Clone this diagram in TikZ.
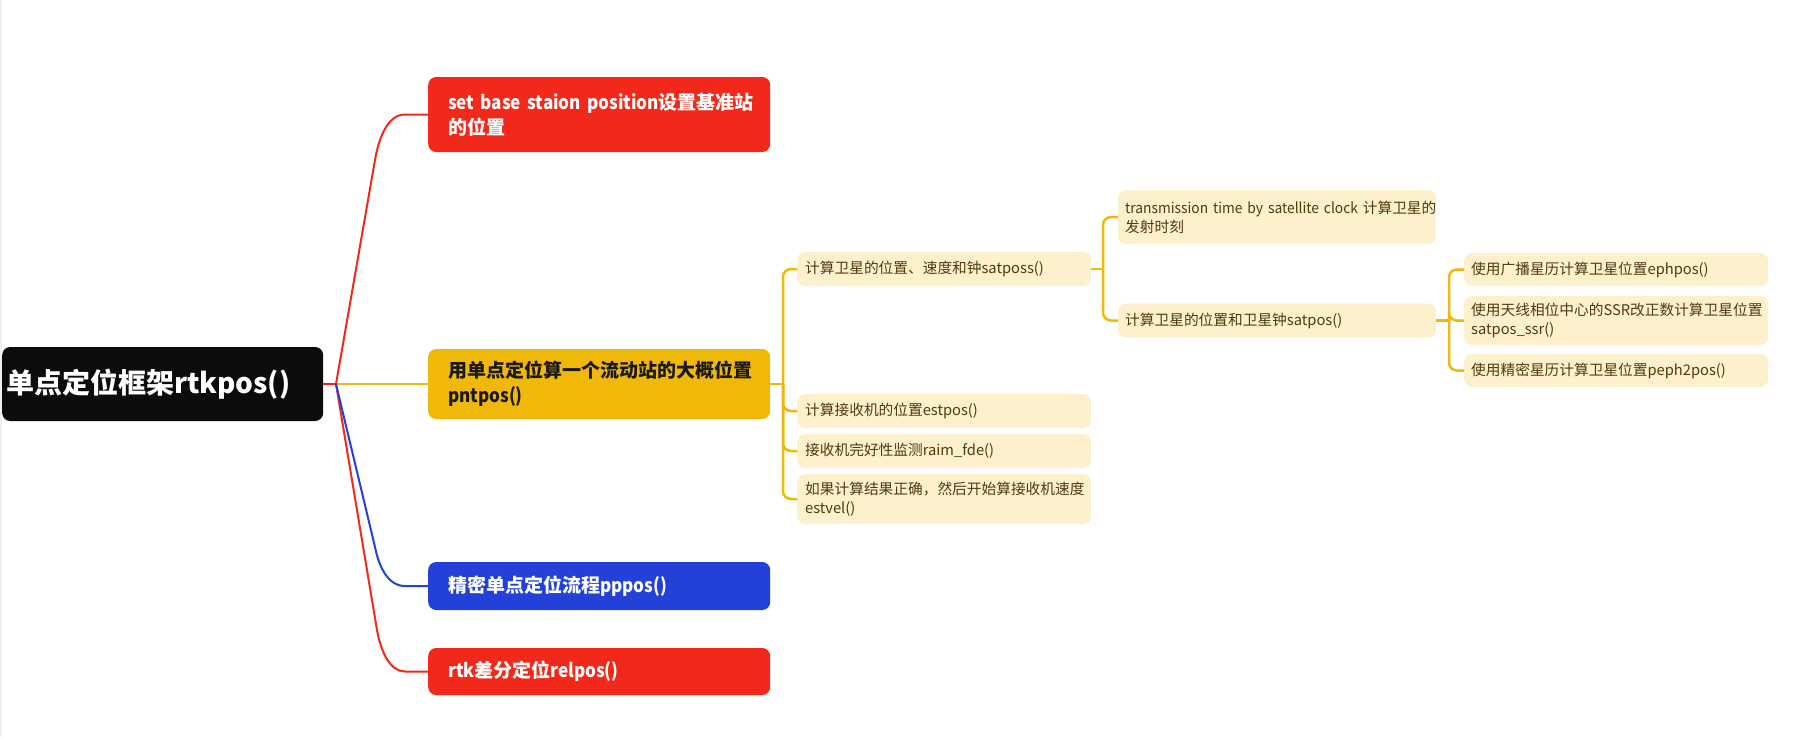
\documentclass[tikz,border=0pt]{standalone}
\usepackage{fontspec}
\setmainfont{Noto Sans CJK SC}
\newfontfamily\narrowfont{Noto Sans CJK SC}[FakeStretch=0.9]
\newfontfamily\slimfont{Noto Sans CJK SC}[FakeStretch=0.94]
\definecolor{cred}{HTML}{F2291A}
\definecolor{cyel}{HTML}{F0B808}
\definecolor{cblue}{HTML}{2340D9}
\definecolor{croot}{HTML}{0C0C0C}
\definecolor{clight}{HTML}{FCF0CD}
\definecolor{ctext}{HTML}{4D3C0C}
\definecolor{cstrip}{HTML}{EDF0F4}
\tikzset{
  rootbox/.style={fill=croot, text=white, rounded corners=8pt, anchor=west, inner xsep=4pt, inner ysep=0pt,
    text width=313pt, minimum height=74pt, align=left, font=\fontsize{28}{32}\selectfont\bfseries},
  lvA/.style={rounded corners=8pt, anchor=west, inner xsep=20pt, inner ysep=0pt, text width=302pt,
    align=left, font=\fontsize{19}{25}\selectfont\bfseries},
  lvB/.style={fill=clight, text=ctext, rounded corners=8pt, anchor=west, inner xsep=8pt, inner ysep=0pt,
    text width=278pt, align=left, font=\fontsize{14.7}{19}\selectfont},
  lvC/.style={lvB, inner xsep=7pt, text width=304pt},
  lvD/.style={lvB, inner xsep=7pt, text width=290pt},
  redline/.style={draw=cred, line width=2pt},
  blueline/.style={draw=cblue, line width=2pt},
  yline/.style={draw=cyel, line width=2pt},
  yline2/.style={draw=cyel, line width=2.5pt, rounded corners=8pt},
}
\begin{document}
\begin{tikzpicture}[x=1pt,y=-1pt]
\useasboundingbox (0,0) rectangle (1808,737);
\fill[white] (0,0) rectangle (1808,737);
\fill[cstrip] (0,0) rectangle (2,737);

% root
\node[rootbox] (root) at (2,384) {单点定位框架rtkpos()};

% level 1
\node[lvA, fill=cred, text=white, minimum height=75pt] (sb) at (428,114.5)
  {\mbox{{\narrowfont\bfseries set base staion position}设置基准站}\\的位置};
\node[lvA, fill=cyel, text=black!90, minimum height=70pt] (pnt) at (428,384)
  {用单点定位算一个流动站的大概位置\\{\narrowfont\bfseries pntpos()}};
\node[lvA, fill=cblue, text=white, minimum height=48pt] (ppp) at (428,586)
  {精密单点定位流程{\narrowfont\bfseries pppos()}};
\node[lvA, fill=cred, text=white, minimum height=47pt] (rel) at (428,671.5)
  {{\narrowfont\bfseries rtk}差分定位{\narrowfont\bfseries relpos()}};

% level 2
\node[lvB, minimum height=34pt] (s1) at (797,269) {计算卫星的位置、速度和钟satposs()};
\node[lvB, minimum height=34pt] (s2) at (797,411) {计算接收机的位置estpos()};
\node[lvB, minimum height=34pt] (s3) at (797,451) {接收机完好性监测raim\_fde()};
\node[lvB, minimum height=50pt] (s4) at (797,499) {如果计算结果正确，然后开始算接收机速度\\estvel()};

% level 3
\node[lvC, minimum height=54pt] (t1) at (1118,217)
  {\mbox{{\slimfont transmission time by satellite clock} 计算卫星的}\\发射时刻};
\node[lvC, minimum height=34pt] (t2) at (1118,320.5) {计算卫星的位置和卫星钟satpos()};

% level 4
\node[lvD, minimum height=33pt] (u1) at (1464,269.5) {使用广播星历计算卫星位置ephpos()};
\node[lvD, minimum height=49pt] (u2) at (1464,320.5) {使用天线相位中心的SSR改正数计算卫星位置\\satpos\_ssr()};
\node[lvD, minimum height=33pt] (u3) at (1464,370.5) {使用精密星历计算卫星位置peph2pos()};

% connectors level 1
\coordinate (B) at (336,384);
\draw[redline] (root.east) -- (B);
\draw[yline] (B) -- (pnt.west);
\draw[redline] (B) -- (375,160) .. controls (379,137) and (388,114.5) .. (405,114.5) -- (sb.west);
\draw[redline] (B) -- (377,630) .. controls (381,652) and (390,671.5) .. (405,671.5) -- (rel.west);
\draw[blueline] (B) -- (375,547) .. controls (379,567) and (388,586) .. (405,586) -- (ppp.west);

% connectors level 2
\coordinate (V2) at (783,384);
\draw[yline2] (pnt.east) -- (V2);
\foreach \n in {s1,s2,s3,s4} \draw[yline2] (V2) |- (\n.west);

% connectors level 3
\coordinate (V3) at (1103,269);
\draw[yline2] (s1.east) -- (V3);
\foreach \n in {t1,t2} \draw[yline2] (V3) |- (\n.west);

% connectors level 4
\coordinate (V4) at (1449,320.5);
\draw[yline2] (t2.east) -- (V4);
\foreach \n in {u1,u2,u3} \draw[yline2] (V4) |- (\n.west);
\end{tikzpicture}
\end{document}
